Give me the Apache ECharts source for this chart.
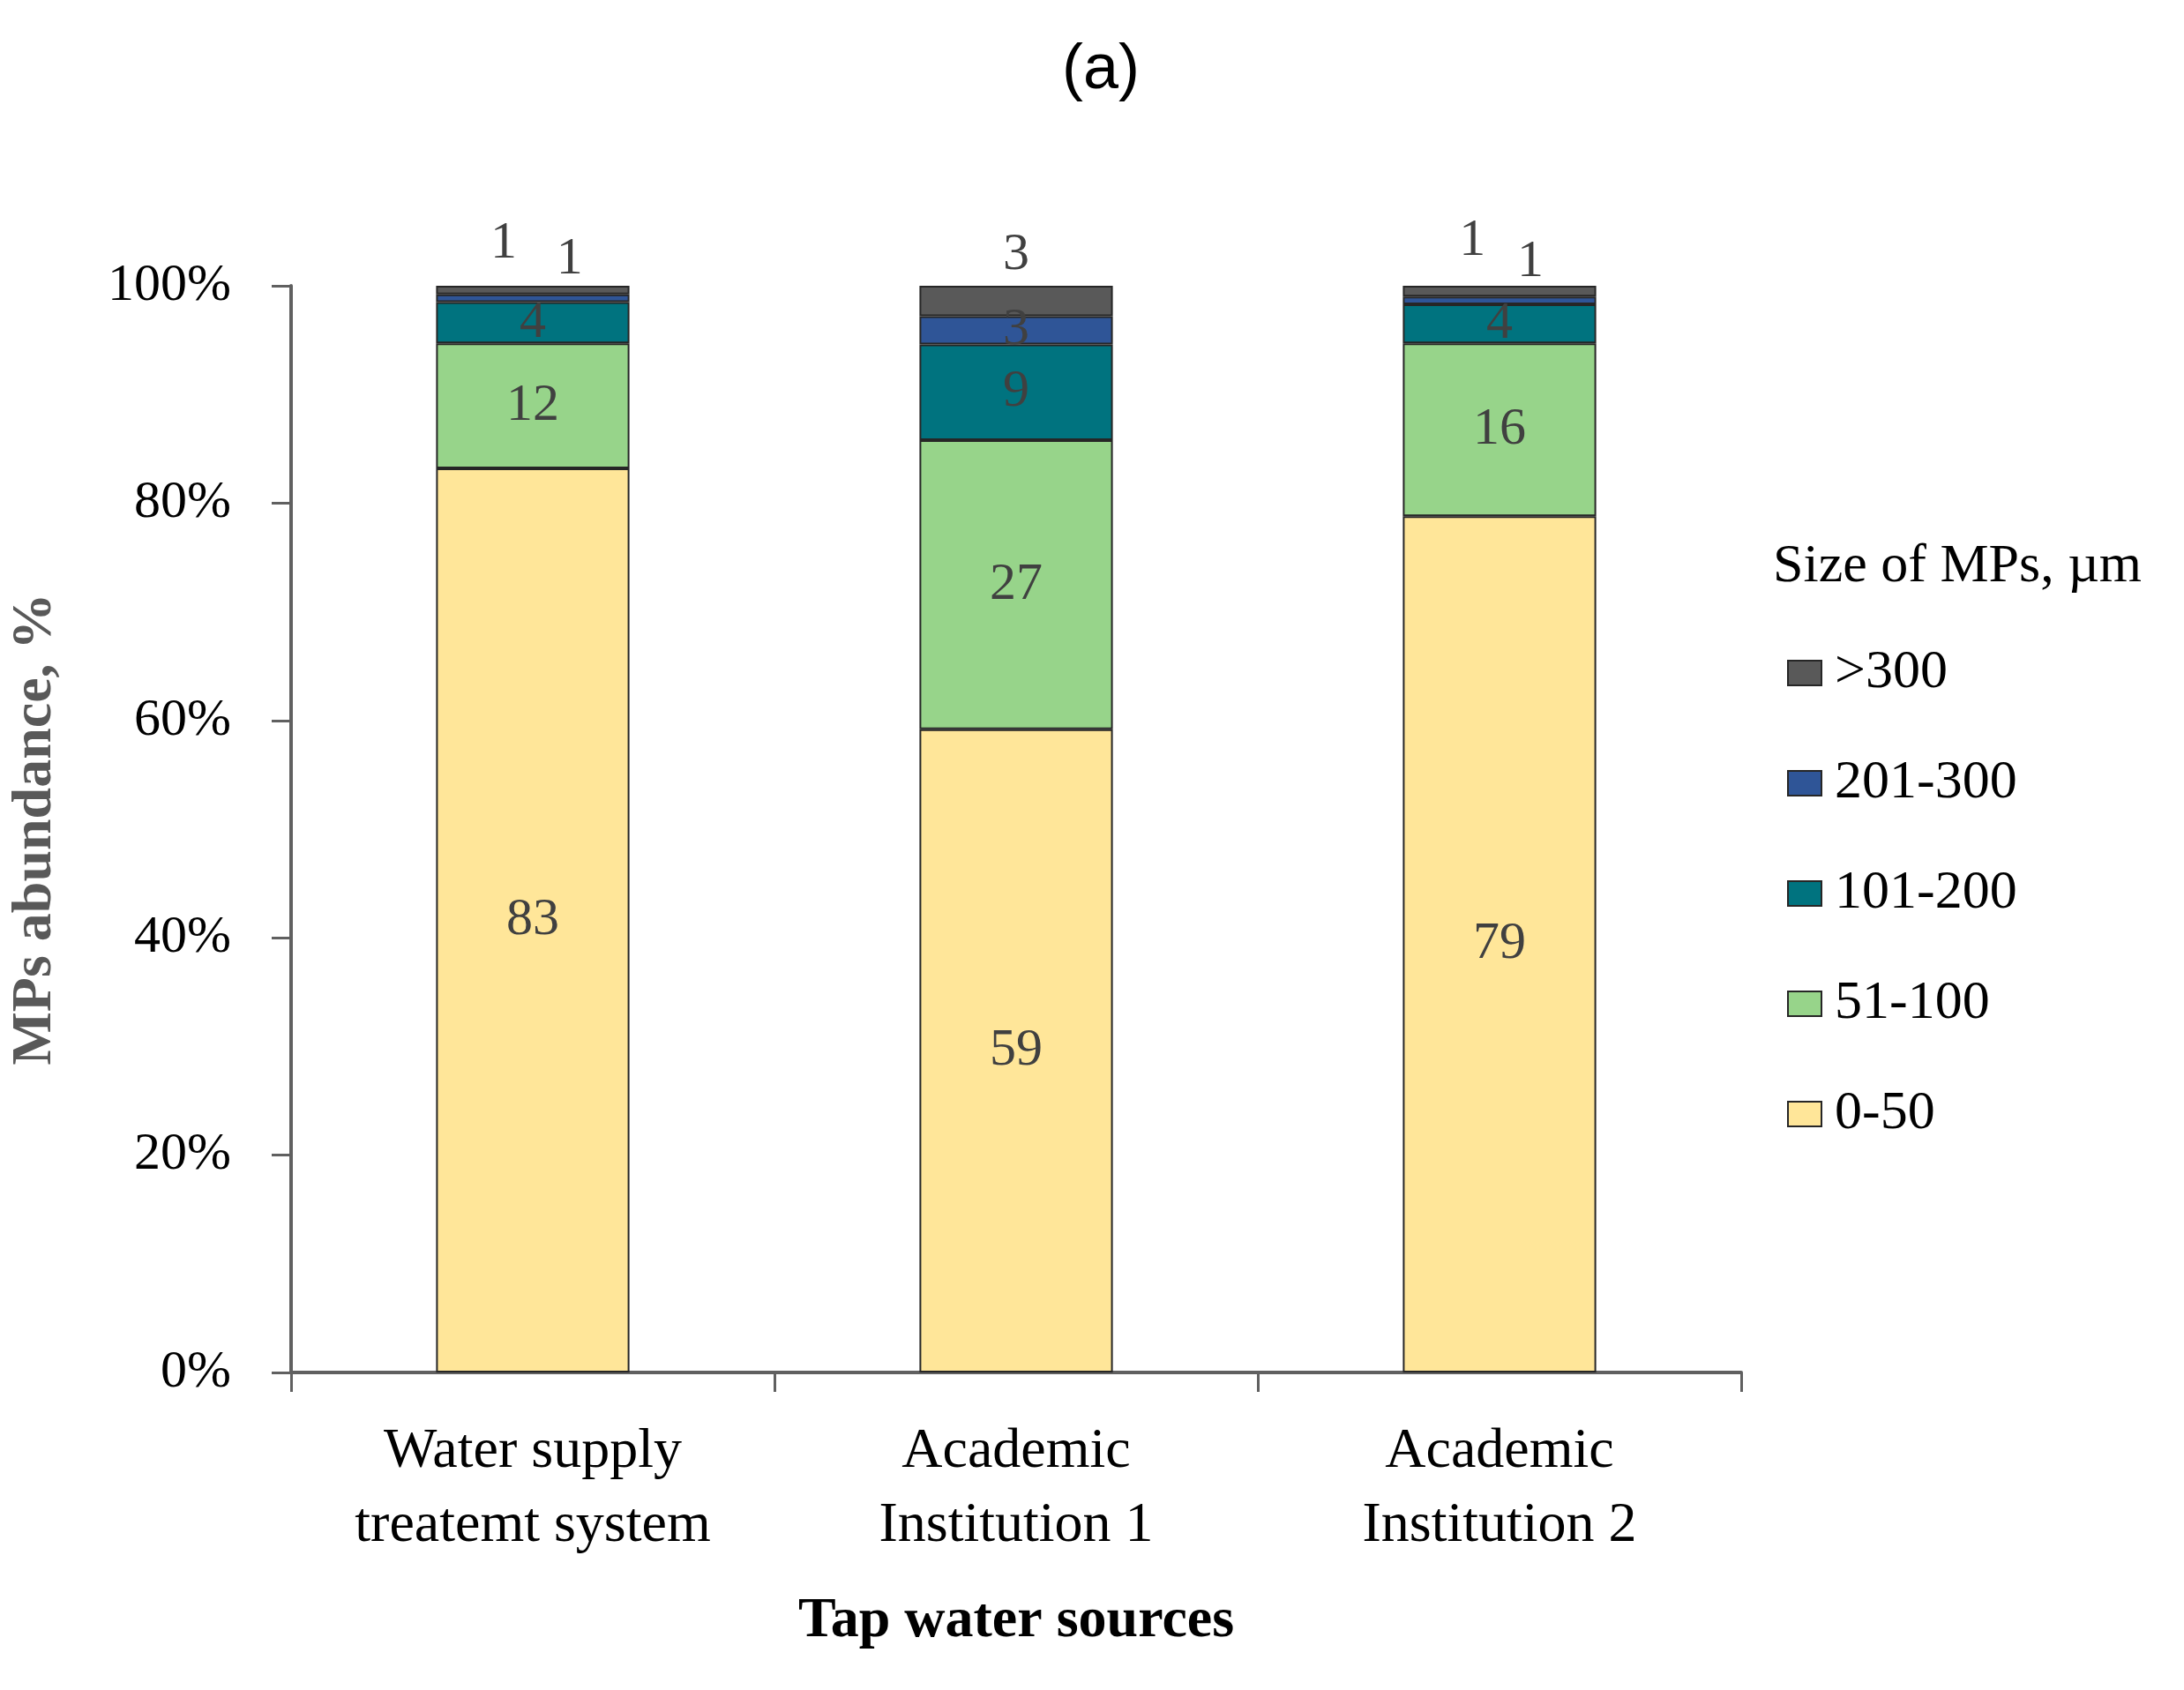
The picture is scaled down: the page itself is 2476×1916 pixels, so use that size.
<!DOCTYPE html>
<html>
<head>
<meta charset="utf-8">
<script src="https://cdn.jsdelivr.net/npm/echarts@6/dist/echarts.min.js"></script>
<style>
html,body{margin:0;padding:0;background:#fff;}
#c{width:2476px;height:1916px;}
</style>
</head>
<body>
<div id="c"></div>
<script>
// ---- data ----
const categories = ['Water supply\ntreatemt system', 'Academic\nInstitution 1', 'Academic\nInstitution 2'];
const seriesNames = ['0-50', '51-100', '101-200', '201-300', '>300'];
const s0_50    = [83.2, 59.2, 78.8];
const s51_100  = [11.5, 26.6, 15.9];
const s101_200 = [3.8, 8.8, 3.6];
const s201_300 = [0.7, 2.6, 0.7];
const sOver300 = [0.8, 2.8, 1.0];
const yTicks = [0, 20, 40, 60, 80, 100];
const colors = ['#FFE699', '#97D48A', '#00737F', '#2F5597', '#595959'];

const serif = '"Liberation Serif", "DejaVu Serif", serif';
const labelColor = '#404040';
const axisColor = '#606060';

const allSeries = [s0_50, s51_100, s101_200, s201_300, sOver300];

// per-item label placement for the small top segments (manually moved labels)
const topLabelPos = {
  3: [ ['69%', -40], ['50%', '50%'], ['66%', -39] ],   // 201-300
  4: [ ['35%', -48], ['50%', -35], ['36%', -51] ]      // >300
};

const series = allSeries.map((arr, si) => ({
  name: seriesNames[si],
  type: 'bar',
  stack: 'total',
  barWidth: '40%',
  itemStyle: { color: colors[si], borderColor: '#262626', borderWidth: 2 },
  label: {
    show: true,
    position: 'inside',
    color: labelColor,
    fontFamily: serif,
    fontSize: 60,
    formatter: p => String(Math.round(p.value))
  },
  data: arr.map((v, ci) => {
    const item = { value: v };
    if (topLabelPos[si]) {
      item.label = { position: topLabelPos[si][ci], align: 'center', verticalAlign: 'middle' };
    }
    return item;
  })
}));

const chart = echarts.init(document.getElementById('c'));
chart.setOption({
  backgroundColor: '#fff',
  animation: false,
  title: [
    { text: '(a)', left: 1243, top: 75, textAlign: 'center', textVerticalAlign: 'middle',
      textStyle: { fontFamily: '"Liberation Sans", Arial, sans-serif', fontSize: 72, fontWeight: 'normal', color: '#000' } },
    { text: 'Size of MPs, µm', left: 2010, top: 612,
      textStyle: { fontFamily: serif, fontSize: 62, fontWeight: 'normal', color: '#000' }, padding: 0 }
  ],
  legend: {
    orient: 'vertical',
    left: 2021,
    top: 727,
    data: ['>300', '201-300', '101-200', '51-100', '0-50'],
    itemWidth: 38,
    itemHeight: 28,
    itemGap: 63,
    icon: 'rect',
    itemStyle: { borderColor: '#262626', borderWidth: 2 },
    textStyle: { fontFamily: serif, fontSize: 62, color: '#000', lineHeight: 62, padding: [0, 0, 0, 10] }
  },
  grid: { left: 313, right: 502, top: 324, bottom: 360, containLabel: false },
  xAxis: {
    type: 'category',
    data: categories,
    name: 'Tap water sources',
    nameLocation: 'middle',
    nameGap: 250,
    nameTextStyle: { fontFamily: serif, fontSize: 64, fontWeight: 'bold', color: '#000' },
    axisLine: { lineStyle: { color: axisColor, width: 4 } },
    axisTick: { show: true, length: 22, alignWithLabel: false, lineStyle: { color: axisColor, width: 3 } },
    axisLabel: { fontFamily: serif, fontSize: 64, color: '#000', lineHeight: 84, margin: 48 }
  },
  yAxis: {
    type: 'value',
    min: 0,
    max: 100,
    interval: 20,
    name: 'MPs abundance, %',
    nameLocation: 'middle',
    nameGap: 258,
    nameRotate: 90,
    nameTextStyle: { fontFamily: serif, fontSize: 64, fontWeight: 'bold', color: '#595959' },
    axisLine: { show: true, lineStyle: { color: axisColor, width: 4 } },
    axisTick: { show: true, length: 22, lineStyle: { color: axisColor, width: 3 } },
    splitLine: { show: false },
    axisLabel: { fontFamily: serif, fontSize: 60, color: '#000', margin: 68,
      formatter: v => (yTicks.indexOf(v) >= 0 ? v + '%' : '') }
  },
  series: series
});
</script>
</body>
</html>
